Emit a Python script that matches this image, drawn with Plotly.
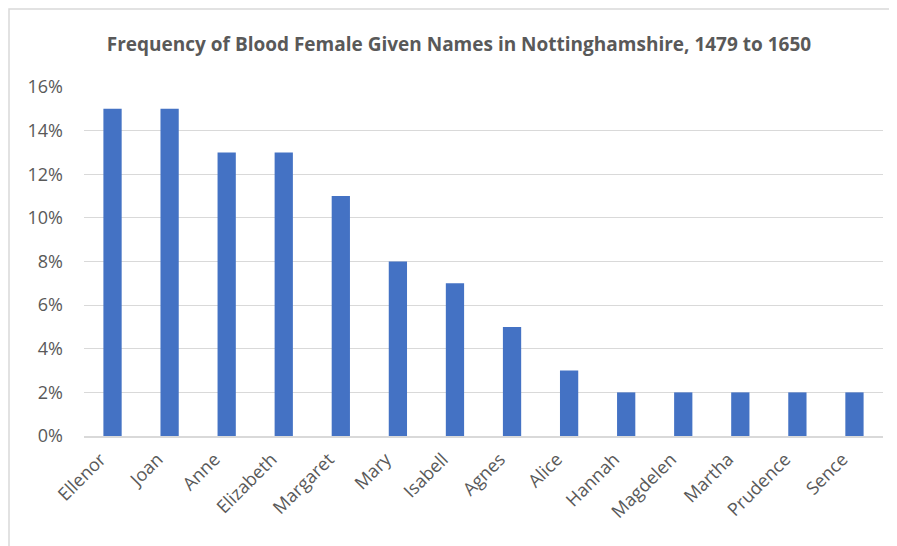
import plotly.graph_objects as go

names = ["Ellenor", "Joan", "Anne", "Elizabeth", "Margaret", "Mary", "Isabell",
         "Agnes", "Alice", "Hannah", "Magdelen", "Martha", "Prudence", "Sence"]
frequency_pct = [15, 15, 13, 13, 11, 8, 7, 5, 3, 2, 2, 2, 2, 2]

# page is rendered with an 8px body margin; layout values are in figure pixels
OFF = 8
W, H = 897, 546
L, R, T, B = 84 - OFF, W - (883 - OFF), 87 - OFF, H - (436 - OFF)
pw, ph = W - L - R, H - T - B

def px_x(p):
    return (p - L) / pw

def px_y(p):
    return (H - B - p) / ph

FONT = "Open Sans, Liberation Sans, Arial, sans-serif"

fig = go.Figure(go.Bar(
    x=names,
    y=[v / 100 for v in frequency_pct],
    marker=dict(color="#4472C4", line=dict(width=0)),
    width=0.32,
))

fig.update_layout(
    width=W, height=H,
    margin=dict(l=L, r=R, t=T, b=B),
    paper_bgcolor="white",
    plot_bgcolor="white",
    showlegend=False,
    title=dict(
        text="<b>Frequency of Blood Female Given Names in Nottinghamshire, 1479 to 1650</b>",
        x=(459 - OFF) / W, xanchor="center", y=1 - (44 - OFF) / H, yanchor="middle",
        font=dict(family=FONT, size=19, color="#595959"),
    ),
    font=dict(family=FONT, color="#595959"),
    xaxis=dict(
        tickangle=-45,
        tickfont=dict(size=18, color="#595959"),
        showgrid=False,
        showline=True, linecolor="#d9d9d9", linewidth=1.5,
        ticks="",
        ticklabelshift=-12,
        ticklabelstandoff=4,
        automargin=False,
    ),
    yaxis=dict(
        range=[0, 0.16],
        dtick=0.02,
        tickformat=".0%",
        tickfont=dict(size=18, color="#595959"),
        showgrid=True, gridcolor="#d9d9d9", gridwidth=1,
        zeroline=False,
        showline=False,
        ticks="",
        ticklabelstandoff=20,
        automargin=False,
    ),
    shapes=[dict(
        type="rect", xref="paper", yref="paper",
        x0=px_x(1), x1=px_x(910), y0=px_y(560), y1=px_y(1),
        line=dict(color="#d9d9d9", width=1.5),
        fillcolor="rgba(0,0,0,0)", layer="below",
    )],
)

fig.write_html("out.html")
